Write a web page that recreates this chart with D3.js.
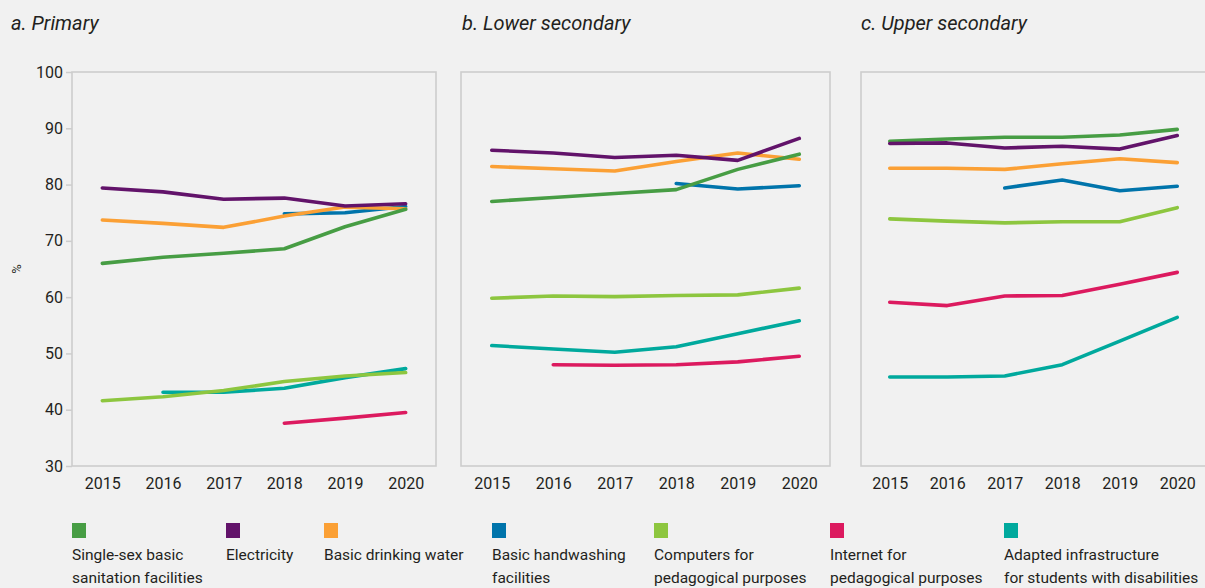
<!DOCTYPE html>
<html>
<head>
<meta charset="utf-8">
<script src="https://cdn.jsdelivr.net/npm/d3@7"></script>
<style>
  html, body { margin: 0; padding: 0; background: #f1f1f1; }
  svg { display: block; }
  text { font-family: Roboto, "Open Sans", sans-serif; fill: #231f20; }
</style>
</head>
<body>
<svg id="chart" width="1205" height="588"></svg>
<script>
// Survey years shown on every panel
const years = [2015, 2016, 2017, 2018, 2019, 2020];

// Facility indicators (legend order)
const seriesNames = [
  "Single-sex basic\nsanitation facilities",
  "Electricity",
  "Basic drinking water",
  "Basic handwashing\nfacilities",
  "Computers for\npedagogical purposes",
  "Internet for\npedagogical purposes",
  "Adapted infrastructure\nfor students with disabilities"
];
const seriesColors = ["#479d44", "#62136a", "#fba035", "#0074ab", "#8dc63f", "#dc1a5f", "#00a99d"];

// Panel titles
const panelTitles = ["a. Primary", "b. Lower secondary", "c. Upper secondary"];

// Percentage of schools, per panel, one row per indicator (null = not reported)
const primary = [
  [66.0, 67.1, 67.8, 68.6, 72.5, 75.6],
  [79.4, 78.7, 77.4, 77.6, 76.2, 76.6],
  [73.7, 73.1, 72.4, 74.4, 76.0, 75.7],
  [null, null, null, 74.8, 75.0, 76.1],
  [41.6, 42.3, 43.4, 45.0, 46.0, 46.6],
  [null, null, null, 37.6, 38.5, 39.5],
  [null, 43.1, 43.1, 43.8, 45.7, 47.3]
];
const lowerSecondary = [
  [77.0, 77.7, 78.4, 79.1, 82.7, 85.4],
  [86.1, 85.6, 84.8, 85.2, 84.3, 88.2],
  [83.2, 82.8, 82.4, 84.1, 85.6, 84.5],
  [null, null, null, 80.2, 79.2, 79.8],
  [59.8, 60.2, 60.1, 60.3, 60.4, 61.6],
  [null, 48.0, 47.9, 48.0, 48.5, 49.5],
  [51.4, 50.8, 50.2, 51.2, 53.5, 55.8]
];
const upperSecondary = [
  [87.7, 88.1, 88.4, 88.4, 88.8, 89.8],
  [87.3, 87.4, 86.5, 86.8, 86.3, 88.7],
  [82.9, 82.9, 82.7, 83.7, 84.6, 83.9],
  [null, null, 79.4, 80.8, 78.9, 79.7],
  [73.9, 73.5, 73.2, 73.4, 73.4, 75.9],
  [59.1, 58.5, 60.2, 60.3, 62.3, 64.4],
  [45.8, 45.8, 46.0, 48.0, 52.2, 56.4]
];

// Y axis ticks
const yTicks = [30, 40, 50, 60, 70, 80, 90, 100];

const panelData = [primary, lowerSecondary, upperSecondary];

const svg = d3.select("#chart");

// Panel frames in pixels
const frames = [
  { x0: 72, x1: 436, tx: 11 },
  { x0: 461, x1: 830, tx: 462 },
  { x0: 861, x1: 1206, tx: 861 }
];
const plotTop = 72, plotBottom = 466;

const y = d3.scaleLinear().domain([30, 100]).range([plotBottom, plotTop]);

// Drawing order: later series sit on top
const drawOrder = [6, 5, 4, 3, 2, 0, 1];

frames.forEach((f, p) => {
  const g = svg.append("g");

  g.append("text")
    .attr("x", f.tx).attr("y", 30)
    .style("font-size", "20px")
    .style("font-style", "italic")
    .text(panelTitles[p]);

  g.append("rect")
    .attr("x", f.x0).attr("y", plotTop)
    .attr("width", f.x1 - f.x0).attr("height", plotBottom - plotTop)
    .attr("fill", "none")
    .attr("stroke", "#cdcdcd")
    .attr("stroke-width", 1.6);

  const x = d3.scalePoint().domain(years).range([f.x0, f.x1]).padding(0.5);

  // x axis labels
  const xAxis = d3.axisBottom(x).tickSize(0).tickPadding(0);
  const xg = g.append("g").attr("transform", `translate(0,${plotBottom})`).call(xAxis);
  xg.select(".domain").remove();
  xg.selectAll("text")
    .attr("y", 23)
    .attr("dy", null)
    .style("font-size", "16px")
    .style("font-family", "Roboto, sans-serif")
    .attr("fill", "#231f20");

  if (p === 0) {
    const yAxis = d3.axisLeft(y).tickValues(yTicks).tickSize(6).tickPadding(3);
    const yg = g.append("g").attr("transform", `translate(${f.x0},0)`).call(yAxis);
    yg.select(".domain").remove();
    yg.selectAll("line").attr("stroke", "#cdcdcd").attr("stroke-width", 1.5);
    yg.selectAll("text")
      .style("font-size", "16px")
      .style("font-family", "Roboto, sans-serif")
      .attr("fill", "#231f20");
    g.append("text")
      .attr("transform", `translate(21,${(plotTop + plotBottom) / 2}) rotate(-90)`)
      .attr("text-anchor", "middle")
      .style("font-size", "13px")
      .text("%");
  }

  const line = d3.line()
    .defined(d => d.v != null)
    .x(d => x(d.year))
    .y(d => y(d.v));

  drawOrder.forEach(s => {
    const pts = years.map((yr, i) => ({ year: yr, v: panelData[p][s][i] }));
    g.append("path")
      .datum(pts)
      .attr("d", line)
      .attr("fill", "none")
      .attr("stroke", seriesColors[s])
      .attr("stroke-width", 3.6)
      .attr("stroke-linecap", "round")
      .attr("stroke-linejoin", "round");
  });
});

// Legend
const legendX = [72, 226, 324, 492, 654, 830, 1004];
const legend = svg.append("g");
seriesNames.forEach((name, i) => {
  const lg = legend.append("g").attr("transform", `translate(${legendX[i]},0)`);
  lg.append("rect")
    .attr("x", 0).attr("y", 523)
    .attr("width", 14).attr("height", 15)
    .attr("fill", seriesColors[i]);
  name.split("\n").forEach((ln, k) => {
    lg.append("text")
      .attr("x", 0).attr("y", 560 + k * 23)
      .style("font-size", "15.5px")
      .text(ln);
  });
});
</script>
</body>
</html>
